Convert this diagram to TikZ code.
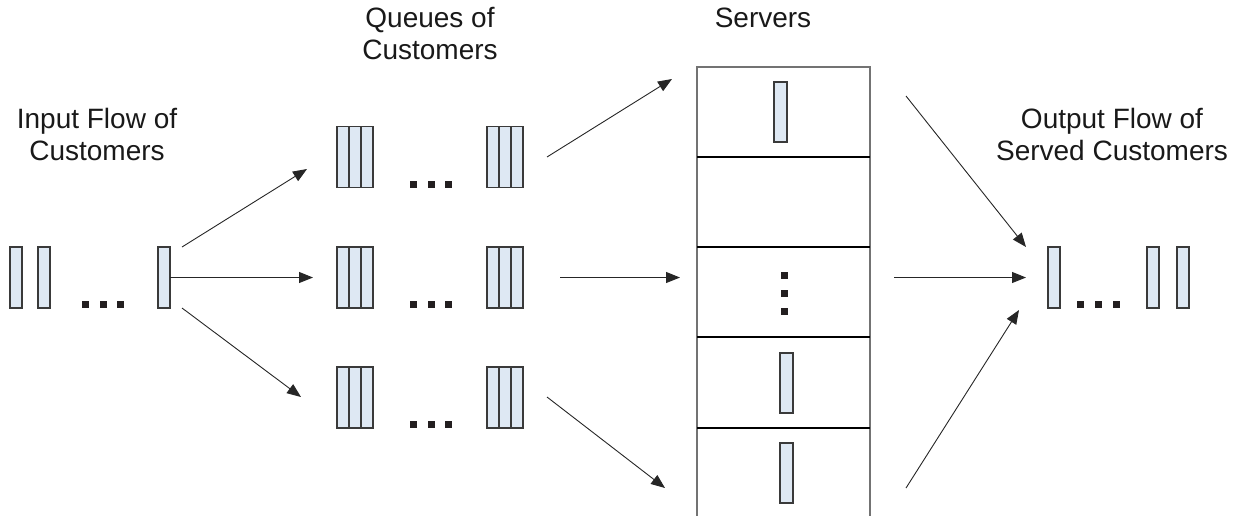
\documentclass[tikz,border=0pt]{standalone}
\usepackage{fontspec}
\setmainfont{Liberation Sans}
\usetikzlibrary{arrows.meta}
\definecolor{barfill}{HTML}{DEE8F3}
\definecolor{barline}{HTML}{3A3A3A}
\definecolor{dotcol}{HTML}{231F20}
\tikzset{
  cbar/.style={draw=barline, line width=1.2pt, fill=barfill, minimum width=12pt, minimum height=61pt, inner sep=0pt, outer sep=0pt},
  sbar/.style={cbar, minimum width=13pt, minimum height=60pt},
  queue/.style={draw=barline, line width=1.2pt, fill=barfill, minimum width=36pt, minimum height=61pt, inner sep=0pt, outer sep=0pt,
    path picture={\draw[barline, line width=1.2pt] ([xshift=12pt]path picture bounding box.north west) -- ([xshift=12pt]path picture bounding box.south west)
      ([xshift=-12pt]path picture bounding box.north east) -- ([xshift=-12pt]path picture bounding box.south east);}},
  sq/.style={fill=dotcol, minimum size=7pt, inner sep=0pt, outer sep=0pt},
  lbl/.style={font=\fontsize{28}{32}\selectfont, align=center, text=black!90},
  arr/.style={line width=0.9pt, draw=black!85, -{Triangle[length=14pt,width=11pt]}},
}
\begin{document}
\begin{tikzpicture}[x=1pt,y=-1pt]
\useasboundingbox (0,0) rectangle (1234,515);
\clip (0,0) rectangle (1234,515);
% labels
\node[lbl] (tin) at (97,134) {Input Flow of\\Customers};
\node[lbl] (tq) at (430,34) {Queues of\\Customers};
\node[lbl] (ts) at (763,18) {Servers};
\node[lbl] (tout) at (1112,134) {Output Flow of\\Served Customers};
% input flow
\node[cbar] (in1) at (16,277.5) {};
\node[cbar] (in2) at (44,277.5) {};
\node[cbar] (in3) at (164,277.5) {};
\node[sq] (id1) at (85.5,304.5) {};
\node[sq] (id2) at (103.5,304.5) {};
\node[sq] (id3) at (120.5,304.5) {};
% queues
\foreach \r/\y in {1/157,2/277.5,3/397.5}{
  \node[queue] (q\r l) at (355,\y) {};
  \node[queue] (q\r r) at (505,\y) {};
  \node[sq] (qd\r a) at (413.5,\y+27) {};
  \node[sq] (qd\r b) at (431,\y+27) {};
  \node[sq] (qd\r c) at (448.5,\y+27) {};
}
% servers
\draw[draw=black!55, line width=1.5pt] (697,520) -- (697,67) -- (870,67) -- (870,520);
\foreach \s in {157,247,337,428}{
  \draw[black, line width=2pt] (697,\s) -- (870,\s);
}
\node[sbar] (s1) at (780.5,112) {};
\node[sq] (sd1) at (784.5,275.5) {};
\node[sq] (sd2) at (784.5,293.5) {};
\node[sq] (sd3) at (784.5,311.5) {};
\node[sbar] (s4) at (786.5,383) {};
\node[sbar] (s5) at (786.5,473) {};
% output flow
\node[cbar] (o1) at (1054,277.5) {};
\node[sq] (od1) at (1080.5,304.5) {};
\node[sq] (od2) at (1098.5,304.5) {};
\node[sq] (od3) at (1116.5,304.5) {};
\node[cbar] (o2) at (1153,277.5) {};
\node[cbar] (o3) at (1183,277.5) {};
% arrow end points
\coordinate (a1s) at (182,247);  \coordinate (a1e) at (307,169);
\coordinate (a2e) at (313,277.5);
\coordinate (a3s) at (182,308);  \coordinate (a3e) at (301,397);
\coordinate (b1s) at (547,157);  \coordinate (b1e) at (672,79);
\coordinate (b2s) at (560,277.5);\coordinate (b2e) at (680,277.5);
\coordinate (b3s) at (547,397);  \coordinate (b3e) at (665,488);
\coordinate (c1s) at (906,96);   \coordinate (c1e) at (1026,247);
\coordinate (c2s) at (894,277.5);\coordinate (c2e) at (1026,277.5);
\coordinate (c3s) at (906,488);  \coordinate (c3e) at (1019,310);
\draw[arr] (a1s) -- (a1e);
\draw[arr] (in3.east) -- (a2e);
\draw[arr] (a3s) -- (a3e);
\draw[arr] (b1s) -- (b1e);
\draw[arr] (b2s) -- (b2e);
\draw[arr] (b3s) -- (b3e);
\draw[arr] (c1s) -- (c1e);
\draw[arr] (c2s) -- (c2e);
\draw[arr] (c3s) -- (c3e);
\end{tikzpicture}
\end{document}
